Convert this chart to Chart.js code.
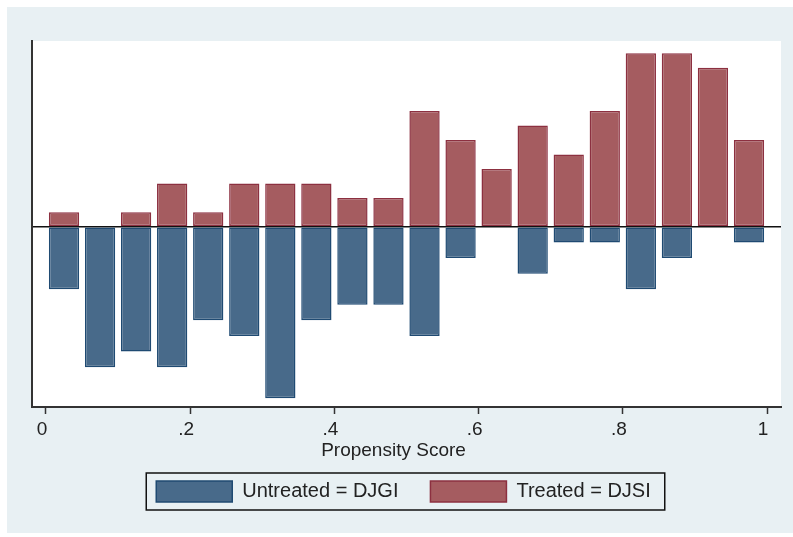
<!DOCTYPE html>
<html lang="en">

<head>
    <meta charset="UTF-8">
    <title>Propensity Score</title>
    <script src="https://cdn.jsdelivr.net/npm/chart.js"></script>
    <style>
        html, body { margin: 0; padding: 0; background: #ffffff; }
        #wrap { width: 793px; height: 537px; }
    </style>
</head>

<body>
    <div id="wrap"><canvas id="psChart" width="793" height="537"></canvas></div>

    <script>
        // bin centres of the propensity score histogram (width .05)
        const binCenters = [0.025, 0.075, 0.125, 0.175, 0.225, 0.275, 0.325, 0.375, 0.425, 0.475,
            0.525, 0.575, 0.625, 0.675, 0.725, 0.775, 0.825, 0.875, 0.925, 0.975];

        // fraction of each group in the bin (untreated mirrored below zero)
        const treatedFrac = [0.0102, 0, 0.0102, 0.0306, 0.0102, 0.0306, 0.0306, 0.0306, 0.0204, 0.0204,
            0.0816, 0.0612, 0.0408, 0.0714, 0.0510, 0.0816, 0.1224, 0.1224, 0.1122, 0.0612];
        const untreatedFrac = [-0.0440, -0.0989, -0.0879, -0.0989, -0.0659, -0.0769, -0.1209, -0.0659, -0.0549, -0.0549,
            -0.0769, -0.0220, 0, -0.0330, -0.0110, -0.0110, -0.0440, -0.0220, 0, -0.0110];

        const tickValues = [0, 0.2, 0.4, 0.6, 0.8, 1];
        const tickLabels = ["0", ".2", ".4", ".6", ".8", "1"];
        const xTitle = "Propensity Score";
        const seriesNames = ["Untreated = DJGI", "Treated = DJSI"];

        const FONT = "'Liberation Sans', Arial, sans-serif";

        const backdrop = {
            id: "backdrop",
            beforeDraw(chart) {
                const { ctx, chartArea: a } = chart;
                ctx.save();
                ctx.fillStyle = "#ffffff";
                ctx.fillRect(0, 0, chart.width, chart.height);
                ctx.fillStyle = "#e8f0f3";
                ctx.fillRect(7, 7, chart.width - 7, chart.height - 11);
                ctx.fillStyle = "#ffffff";
                ctx.fillRect(a.left, a.top, a.right - a.left, a.bottom - a.top);
                ctx.restore();
            },
            afterDraw(chart) {
                const { ctx, chartArea: a } = chart;
                ctx.save();
                // axis title
                ctx.font = "19px " + FONT;
                ctx.fillStyle = "#222222";
                ctx.textAlign = "center";
                ctx.textBaseline = "alphabetic";
                ctx.fillText(xTitle, chart.scales.x.getPixelForValue(0.5) - 13, a.bottom + 49);
                // frame round the legend
                const boxes = chart.legend.legendHitBoxes;
                if (boxes.length) {
                    const l = Math.min(...boxes.map(b => b.left)) - 10;
                    const r = Math.max(...boxes.map(b => b.left + b.width)) + 14;
                    const t = boxes[0].top - 8;
                    ctx.strokeStyle = "#111111";
                    ctx.lineWidth = 1.5;
                    ctx.strokeRect(l, t, r - l, 37);
                }
                ctx.restore();
            }
        };

        new Chart(document.getElementById("psChart"), {
            type: "bar",
            data: {
                datasets: [{
                    label: seriesNames[0],
                    data: binCenters.map((x, i) => ({ x: x, y: untreatedFrac[i] })),
                    backgroundColor: "#486a8a",
                    borderColor: "#1f4a72",
                    borderWidth: 1.5,
                    borderSkipped: false,
                    barPercentage: 0.84,
                    categoryPercentage: 1
                }, {
                    label: seriesNames[1],
                    data: binCenters.map((x, i) => ({ x: x, y: treatedFrac[i] })),
                    backgroundColor: "#a55c60",
                    borderColor: "#8c3040",
                    borderWidth: 1.5,
                    borderSkipped: false,
                    barPercentage: 0.84,
                    categoryPercentage: 1
                }]
            },
            options: {
                responsive: false,
                animation: false,
                layout: { padding: { left: 26, right: 12, top: 41, bottom: 25 } },
                plugins: {
                    tooltip: { enabled: false },
                    legend: {
                        position: "bottom",
                        labels: {
                            boxWidth: 76,
                            boxHeight: 21,
                            padding: 32,
                            color: "#222222",
                            font: { family: FONT, size: 20 }
                        }
                    }
                },
                scales: {
                    x: {
                        type: "linear",
                        stacked: true,
                        offset: false,
                        min: -0.0194,
                        max: 1.0194,
                        afterBuildTicks: s => { s.ticks = tickValues.map(v => ({ value: v })); },
                        afterFit: s => { s.height = 42; },
                        ticks: {
                            callback: (v) => tickLabels[tickValues.indexOf(v)],
                            labelOffset: -4,
                            padding: 4,
                            maxRotation: 0,
                            color: "#222222",
                            font: { family: FONT, size: 19 }
                        },
                        grid: {
                            offset: false,
                            drawOnChartArea: false,
                            drawTicks: true,
                            tickLength: 7,
                            tickColor: "#333333",
                            tickWidth: 1.5
                        },
                        border: { display: true, color: "#333333", width: 2 }
                    },
                    y: {
                        stacked: true,
                        min: -0.127,
                        max: 0.131,
                        z: 1,
                        afterFit: s => { s.width = 6; },
                        ticks: { display: false },
                        grid: {
                            drawTicks: false,
                            lineWidth: 1.5,
                            color: c => (c.tick && c.tick.value === 0 ? "#111111" : "rgba(0,0,0,0)")
                        },
                        border: { display: true, color: "#333333", width: 2 }
                    }
                }
            },
            plugins: [backdrop]
        });
    </script>
</body>

</html>
